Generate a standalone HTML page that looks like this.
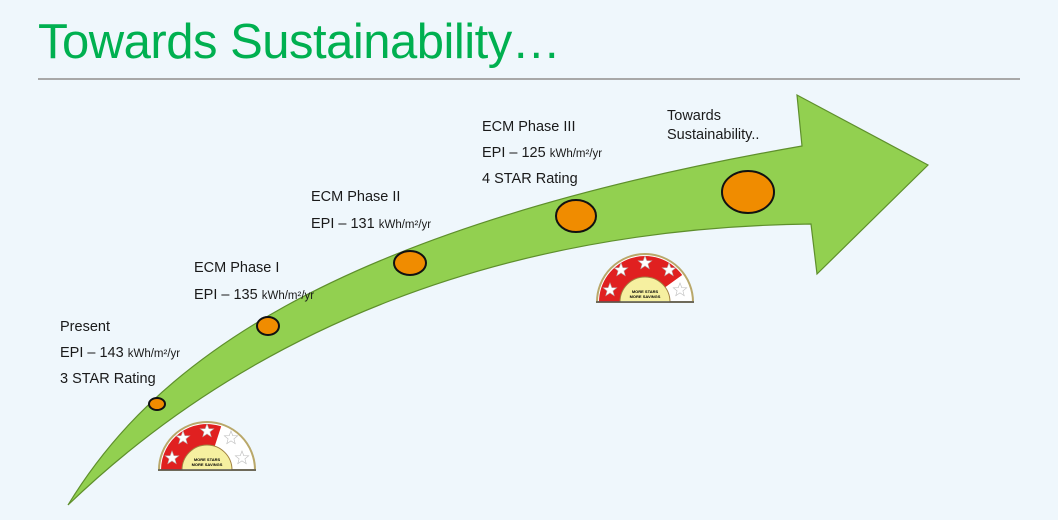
<!DOCTYPE html>
<html><head><meta charset="utf-8"><style>
html,body{margin:0;padding:0;}
body{width:1058px;height:520px;background:#eff7fc;position:relative;overflow:hidden;font-family:"Liberation Sans",sans-serif;}
.t{position:absolute;font-size:14.5px;color:#1a1a1a;white-space:nowrap;}
.s{font-size:11.5px;}
</style></head><body>
<div style="position:absolute;left:38px;top:14px;font-size:49px;color:#00b050;letter-spacing:-0.5px;">Towards Sustainability…</div>
<div style="position:absolute;left:38px;top:78px;width:982px;height:2px;background:#a8a8a8;"></div>
<svg width="1058" height="520" style="position:absolute;left:0;top:0">
<defs>
<g id="st"><polygon points="0,-7 1.8,-2.3 6.7,-2.2 2.9,0.9 4.2,5.7 0,2.9 -4.2,5.7 -2.9,0.9 -6.7,-2.2 -1.8,-2.3" fill="#fff" stroke="#bbb" stroke-width="0.6"/></g>
</defs>
<path d="M68,505 C150,370 320,230 802,146 L797,95 L928,165 L817,274 L811,224 C500,228 250,330 68,505 Z" fill="#92d050" stroke="#5e8f2c" stroke-width="1.2"/>
<g fill="#f08c00" stroke="#111" stroke-width="2">
<ellipse cx="157" cy="404" rx="8" ry="6"/>
<ellipse cx="268" cy="326" rx="11" ry="9"/>
<ellipse cx="410" cy="263" rx="16" ry="12"/>
<ellipse cx="576" cy="216" rx="20" ry="16"/>
<ellipse cx="748" cy="192" rx="26" ry="21"/>
</g>
<g transform="translate(207,470)">
<path d="M-48,0 A48,48 0 0 1 48,0 Z" fill="#fff" stroke="#b9a86a" stroke-width="2"/>
<path d="M-46,0 A46,46 0 0 1 14.2,-43.7 L7.7,-23.8 A25,25 0 0 0 -25,0 Z" fill="#e02020"/>
<path d="M-25,0 A25,25 0 0 1 25,0 Z" fill="#f6f0a0" stroke="#a08040"/>
<line x1="-49" y1="0" x2="49" y2="0" stroke="#555" stroke-width="1.5"/>
<use href="#st" x="-35" y="-12"/><use href="#st" x="-24" y="-32"/><use href="#st" x="0" y="-39"/><use href="#st" x="24" y="-32"/><use href="#st" x="35" y="-12"/>
<text x="0" y="-9" font-size="4" text-anchor="middle" font-weight="bold">MORE STARS</text>
<text x="0" y="-4" font-size="4" text-anchor="middle" font-weight="bold">MORE SAVINGS</text>
</g>
<g transform="translate(645,302)">
<path d="M-48,0 A48,48 0 0 1 48,0 Z" fill="#fff" stroke="#b9a86a" stroke-width="2"/>
<path d="M-46,0 A46,46 0 0 1 37.2,-27 L20.2,-14.7 A25,25 0 0 0 -25,0 Z" fill="#e02020"/>
<path d="M-25,0 A25,25 0 0 1 25,0 Z" fill="#f6f0a0" stroke="#a08040"/>
<line x1="-49" y1="0" x2="49" y2="0" stroke="#555" stroke-width="1.5"/>
<use href="#st" x="-35" y="-12"/><use href="#st" x="-24" y="-32"/><use href="#st" x="0" y="-39"/><use href="#st" x="24" y="-32"/><use href="#st" x="35" y="-12"/>
<text x="0" y="-9" font-size="4" text-anchor="middle" font-weight="bold">MORE STARS</text>
<text x="0" y="-4" font-size="4" text-anchor="middle" font-weight="bold">MORE SAVINGS</text>
</g>
</svg>
<div class="t" style="left:60px;top:319px">Present</div>
<div class="t" style="left:60px;top:345px">EPI – 143 <span class="s">kWh/m²/yr</span></div>
<div class="t" style="left:60px;top:371px">3 STAR Rating</div>
<div class="t" style="left:194px;top:260px">ECM Phase I</div>
<div class="t" style="left:194px;top:287px">EPI – 135 <span class="s">kWh/m²/yr</span></div>
<div class="t" style="left:311px;top:189px">ECM Phase II</div>
<div class="t" style="left:311px;top:216px">EPI – 131 <span class="s">kWh/m²/yr</span></div>
<div class="t" style="left:482px;top:119px">ECM Phase III</div>
<div class="t" style="left:482px;top:145px">EPI – 125 <span class="s">kWh/m²/yr</span></div>
<div class="t" style="left:482px;top:171px">4 STAR Rating</div>
<div class="t" style="left:667px;top:107px;line-height:19px">Towards<br>Sustainability..</div>
</body></html>
